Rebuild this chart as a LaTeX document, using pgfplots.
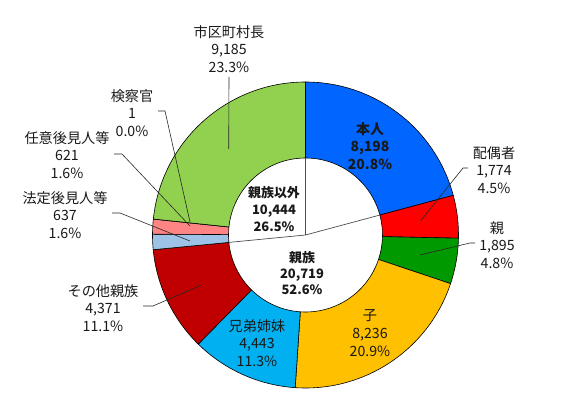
\documentclass[border=0pt]{standalone}
\usepackage{pgfplots}
\pgfplotsset{compat=1.18}
\usepackage{pgfplotstable}
\usepackage{fontspec}
\setmainfont{Noto Sans CJK JP}
\definecolor{cHonnin}{RGB}{0,102,255}
\definecolor{cHaigu}{RGB}{255,0,0}
\definecolor{cOya}{RGB}{0,153,0}
\definecolor{cKo}{RGB}{255,192,0}
\definecolor{cKyodai}{RGB}{0,176,240}
\definecolor{cSonota}{RGB}{192,0,0}
\definecolor{cHotei}{RGB}{157,195,230}
\definecolor{cNini}{RGB}{255,133,133}
\definecolor{cKensatsu}{RGB}{200,200,200}
\definecolor{cShicho}{RGB}{146,208,80}
\pgfplotstableread{
value col
8198 cHonnin
1774 cHaigu
1895 cOya
8236 cKo
4443 cKyodai
4371 cSonota
637 cHotei
621 cNini
1 cKensatsu
9185 cShicho
}\piedata
\def\cx{305.5}
\def\cy{173}
\def\Ro{153}
\def\Ri{77}
\begin{document}
\begin{tikzpicture}
\path[use as bounding box] (0,0) rectangle (568bp,408bp);
\begin{axis}[at={(0,0)},anchor=south west,x=1bp,y=1bp,
  xmin=0,xmax=568,ymin=0,ymax=408,hide axis,clip=false,
  scale only axis]
\pgfplotstablegetrowsof{\piedata}
\pgfmathtruncatemacro\N{\pgfplotsretval-1}
\def\total{0}
\pgfplotsforeachungrouped \i in {0,...,\N}{%
  \pgfplotstablegetelem{\i}{value}\of\piedata
  \xdef\total{\fpeval{\total+\pgfplotsretval}}%
}
\def\cum{0}
\pgfplotsforeachungrouped \i in {0,...,\N}{%
  \pgfplotstablegetelem{\i}{value}\of\piedata \let\v\pgfplotsretval
  \pgfplotstablegetelem{\i}{col}\of\piedata \let\c\pgfplotsretval
  \edef\aa{\fpeval{90-360*\cum/\total}}%
  \edef\ab{\fpeval{90-360*(\cum+\v)/\total}}%
  \xdef\cum{\fpeval{\cum+\v}}%
  \ifnum\i=0 \xdef\angA{\ab}\fi
  \ifnum\i=5 \xdef\angB{\ab}\fi
  \edef\xa{\fpeval{\cx+\Ro*cosd(\aa)}}%
  \edef\ya{\fpeval{\cy+\Ro*sind(\aa)}}%
  \edef\xb{\fpeval{\cx+\Ri*cosd(\ab)}}%
  \edef\yb{\fpeval{\cy+\Ri*sind(\ab)}}%
  \edef\temp{\noexpand\filldraw[fill=\c,draw=black,line width=0.6pt,line join=round]
    (axis cs:\xa,\ya) arc[start angle=\aa,end angle=\ab,radius=\Ro bp]
    -- (axis cs:\xb,\yb) arc[start angle=\ab,end angle=\aa,radius=\Ri bp] -- cycle;}%
  \temp
}
% inner divisions: 本人 | 親族 | 親族以外
\edef\temp{\noexpand\draw[black!70,line width=0.7pt]
  (axis cs:\cx,\cy) -- (axis cs:\cx,\fpeval{\cy+\Ri})
  (axis cs:\cx,\cy) -- (axis cs:\fpeval{\cx+\Ri*cosd(\angA)},\fpeval{\cy+\Ri*sind(\angA)})
  (axis cs:\cx,\cy) -- (axis cs:\fpeval{\cx+\Ri*cosd(\angB)},\fpeval{\cy+\Ri*sind(\angB)});}
\temp
% leader lines
\draw[black!85,line width=0.6pt] (axis cs:229,331) -- (axis cs:228.7,259);
\draw[black!85,line width=0.6pt] (axis cs:158,297) -- (axis cs:165,297) -- (axis cs:190,186);
\draw[black!85,line width=0.6pt] (axis cs:114,254) -- (axis cs:122,254) -- (axis cs:190,182);
\draw[black!85,line width=0.6pt] (axis cs:112,195) -- (axis cs:120,195) -- (axis cs:190,167);
\draw[black!85,line width=0.6pt] (axis cs:143,102) -- (axis cs:153,102) -- (axis cs:201.7,123);
\draw[black!85,line width=0.6pt] (axis cs:468,240) -- (axis cs:463,240) -- (axis cs:420.7,187.3);
\draw[black!85,line width=0.6pt] (axis cs:475,165) -- (axis cs:470,165) -- (axis cs:420,153);
% labels
\tikzset{lab/.style={align=center,inner sep=0pt,font=\fontsize{14.2}{17.7}\selectfont,text=black!90}}
\node[lab] at (axis cs:229,359) {市区町村長\\9,185\\23.3\%};
\node[lab] at (axis cs:132,295) {検察官\\1\\0.0\%};
\node[lab] at (axis cs:67,253) {任意後見人等\\621\\1.6\%};
\node[lab] at (axis cs:65,193) {法定後見人等\\637\\1.6\%};
\node[lab] at (axis cs:103,100) {その他親族\\4,371\\11.1\%};
\node[lab] at (axis cs:494,238) {配偶者\\1,774\\4.5\%};
\node[lab] at (axis cs:497,163) {親\\1,895\\4.8\%};
\node[lab] at (axis cs:370,75) {子\\8,236\\20.9\%};
\node[lab] at (axis cs:257,65) {兄弟姉妹\\4,443\\11.3\%};
\node[lab,font=\fontsize{14}{17.7}\selectfont\bfseries] at (axis cs:370,262) {本人\\8,198\\20.8\%};
\node[lab,font=\fontsize{13}{17.5}\selectfont\bfseries] at (axis cs:274,199) {親族以外\\10,444\\26.5\%};
\node[lab,font=\fontsize{13}{16}\selectfont\bfseries] at (axis cs:302,135) {親族\\20,719\\52.6\%};
\end{axis}
\end{tikzpicture}
\end{document}
